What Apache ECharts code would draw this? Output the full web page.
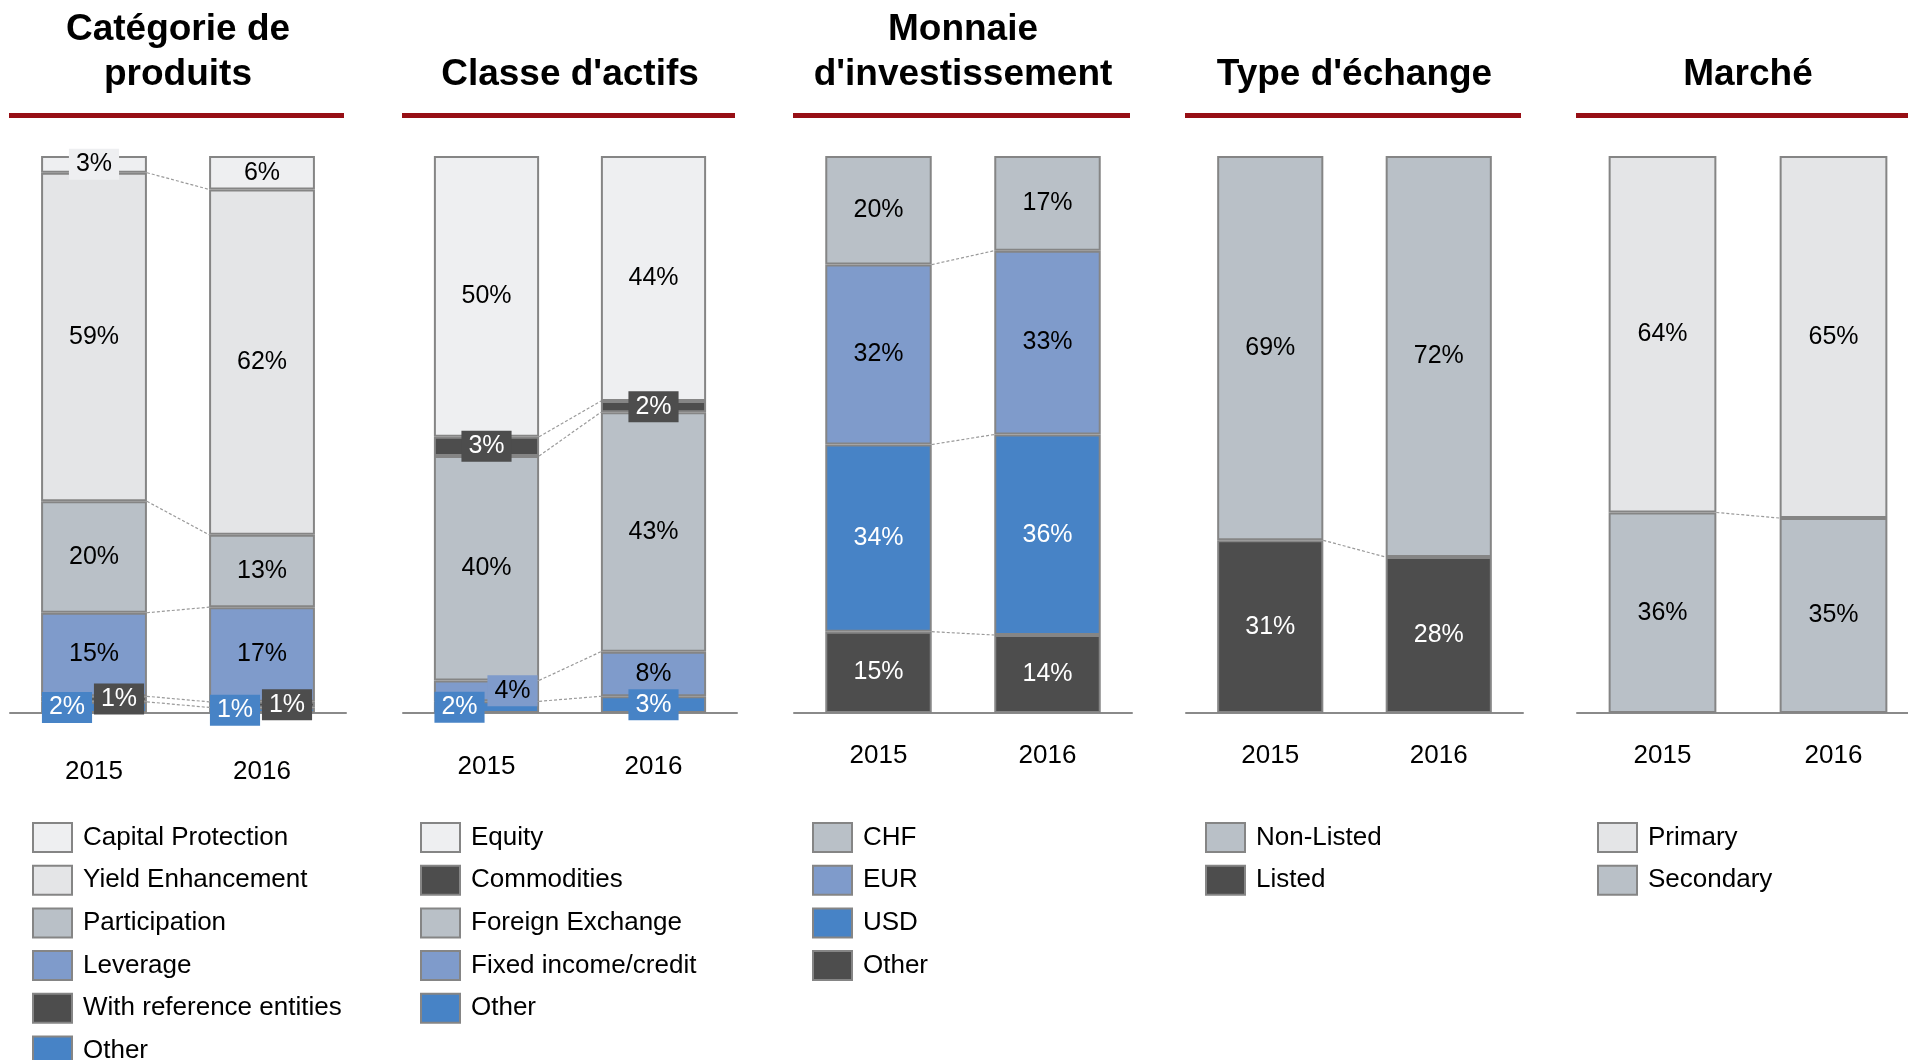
<!DOCTYPE html>
<html><head><meta charset="utf-8">
<script src="https://cdn.jsdelivr.net/npm/echarts@6/dist/echarts.min.js"></script>
<style>html,body{margin:0;padding:0;background:#fff;overflow:hidden}#c{width:1920px;height:1060px}</style>
</head><body><div id="c"></div>
<script>
// ---------------- DATA ----------------
const years = ['2015', '2016'];
const titles = ['Catégorie de\nproduits', "Classe d'actifs", "Monnaie\nd'investissement", "Type d'échange", 'Marché'];

// Panel 1 – Catégorie de produits (stack order: bottom -> top)
const p1Names = ['Other', 'With reference entities', 'Leverage', 'Participation', 'Yield Enhancement', 'Capital Protection'];
const p1Other = [2, 1];
const p1WithRef = [1, 1];
const p1Leverage = [15, 17];
const p1Participation = [20, 13];
const p1Yield = [59, 62];
const p1Capital = [3, 6];

// Panel 2 – Classe d'actifs
const p2Names = ['Other', 'Fixed income/credit', 'Foreign Exchange', 'Commodities', 'Equity'];
const p2Other = [2.1, 3];
const p2Fixed = [3.75, 8];
const p2FX = [40.3, 43];
const p2Commod = [3.45, 2];
const p2Equity = [50.4, 44];

// Panel 3 – Monnaie d'investissement
const p3Names = ['Other', 'USD', 'EUR', 'CHF'];
const p3Other = [14.6, 14];
const p3USD = [33.6, 36];
const p3EUR = [32.3, 33];
const p3CHF = [19.5, 17];

// Panel 4 – Type d'échange
const p4Names = ['Listed', 'Non-Listed'];
const p4Listed = [31, 28];
const p4NonListed = [69, 72];

// Panel 5 – Marché
const p5Names = ['Secondary', 'Primary'];
const p5Secondary = [36, 35];
const p5Primary = [64, 65];

// ---------------- STYLE ----------------
const FONT = '"Liberation Sans", Arial, Helvetica, sans-serif';
const COL = {vlight: '#eeeff1', light: '#e4e5e7', grey: '#b9c0c7', steel: '#7f9bcb', blue: '#4783c6', dark: '#4d4d4d'};
const BORDER = '#858585';

// box: per-year horizontal offset of a boxed label (null = plain label)
const panels = [
  {series: [
    {name: p1Names[0], data: p1Other, color: COL.blue, text: '#fff', box: [-27, -27]},
    {name: p1Names[1], data: p1WithRef, color: COL.dark, text: '#fff', box: [25, 25]},
    {name: p1Names[2], data: p1Leverage, color: COL.steel, text: '#000'},
    {name: p1Names[3], data: p1Participation, color: COL.grey, text: '#000'},
    {name: p1Names[4], data: p1Yield, color: COL.light, text: '#000'},
    {name: p1Names[5], data: p1Capital, color: COL.vlight, text: '#000', box: [0, null]}
  ]},
  {series: [
    {name: p2Names[0], data: p2Other, color: COL.blue, text: '#fff', box: [-27, 0]},
    {name: p2Names[1], data: p2Fixed, color: COL.steel, text: '#000', box: [26, null]},
    {name: p2Names[2], data: p2FX, color: COL.grey, text: '#000'},
    {name: p2Names[3], data: p2Commod, color: COL.dark, text: '#fff', box: [0, 0]},
    {name: p2Names[4], data: p2Equity, color: COL.vlight, text: '#000'}
  ]},
  {series: [
    {name: p3Names[0], data: p3Other, color: COL.dark, text: '#fff'},
    {name: p3Names[1], data: p3USD, color: COL.blue, text: '#fff'},
    {name: p3Names[2], data: p3EUR, color: COL.steel, text: '#000'},
    {name: p3Names[3], data: p3CHF, color: COL.grey, text: '#000'}
  ]},
  {series: [
    {name: p4Names[0], data: p4Listed, color: COL.dark, text: '#fff'},
    {name: p4Names[1], data: p4NonListed, color: COL.grey, text: '#000'}
  ]},
  {series: [
    {name: p5Names[0], data: p5Secondary, color: COL.grey, text: '#000'},
    {name: p5Names[1], data: p5Primary, color: COL.light, text: '#000'}
  ]}
];

const W = 1920;
const layout = [
  {left: 10, width: 336, labelMargin: 46, legendLeft: 32, titleTop: 7},
  {left: 403, width: 334, labelMargin: 41, legendLeft: 420, titleTop: 52},
  {left: 794, width: 338, labelMargin: 30, legendLeft: 812, titleTop: 7},
  {left: 1186, width: 337, labelMargin: 30, legendLeft: 1205, titleTop: 52},
  {left: 1577, width: 342, labelMargin: 30, legendLeft: 1597, titleTop: 52}
];

const BAR_FRAC = 0.63;

const option = {
  animation: false, backgroundColor: '#fff',
  title: [], grid: [], xAxis: [], yAxis: [], legend: [], series: [], graphic: []
};

panels.forEach((p, i) => {
  const L = layout[i];
  option.title.push({
    text: titles[i], left: L.left + L.width / 2, top: L.titleTop, textAlign: 'center', padding: 0,
    textStyle: {fontFamily: FONT, fontSize: 37, fontWeight: 'bold', color: '#000', lineHeight: 45}
  });
  option.graphic.push({type: 'rect', silent: true, shape: {x: L.left - 1, y: 113, width: L.width - 1, height: 5}, style: {fill: '#970f15'}});
  option.grid.push({left: L.left, right: W - L.left - L.width, top: 156, height: 557});
  option.xAxis.push({
    type: 'category', gridIndex: i, data: years,
    axisLine: {lineStyle: {color: '#8a8a8a', width: 2}},
    axisTick: {length: 9, lineStyle: {color: '#8a8a8a', width: 2}},
    axisLabel: {margin: L.labelMargin, fontSize: 26, color: '#000', fontFamily: FONT}
  });
  option.yAxis.push({type: 'value', gridIndex: i, min: 0, max: 100, show: false});

  p.series.forEach(s => {
    option.series.push({
      type: 'bar', name: s.name, xAxisIndex: i, yAxisIndex: i, stack: 'st' + i, barWidth: (BAR_FRAC * 100) + '%',
      itemStyle: {color: s.color, borderColor: BORDER, borderWidth: 2},
      label: {show: true, position: 'inside', fontSize: 25, fontFamily: FONT, color: s.text,
        formatter: prm => Math.round(prm.value) + '%'},
      data: s.data.map((v, k) => {
        const b = s.box ? s.box[k] : null;
        if (b === null || b === undefined) return v;
        return {value: v, label: {backgroundColor: s.color, padding: [3, 7, 3, 7], lineHeight: 25, offset: [b, 0]}};
      })
    });
  });

  // dashed connectors between segment boundaries of 2015 and 2016
  const cum = k => { let a = 0; return p.series.map(s => (a += s.data[k])); };
  const c0 = cum(0), c1 = cum(1);
  const conn = c0.slice(0, -1).map((v, j) => [0, v, c1[j]]);
  option.series.push({
    type: 'custom', xAxisIndex: i, yAxisIndex: i, silent: true, z: 1,
    encode: {x: 0, y: [1, 2]}, data: conn,
    renderItem: (params, api) => {
      const a = api.coord([0, api.value(1)]);
      const b = api.coord([1, api.value(2)]);
      const hw = api.size([1, 0])[0] * BAR_FRAC / 2;
      return {type: 'line', shape: {x1: a[0] + hw, y1: a[1], x2: b[0] - hw, y2: b[1]},
        style: {stroke: '#9a9a9a', lineWidth: 1.2, lineDash: [3, 2]}};
    }
  });

  option.legend.push({
    orient: 'vertical', left: L.legendLeft, top: 822, height: 400, padding: 0, itemWidth: 39, itemHeight: 29, itemGap: 11.7,
    icon: 'rect', selectedMode: false,
    data: p.series.slice().reverse().map(s => ({name: s.name, itemStyle: {color: s.color, borderColor: BORDER, borderWidth: 2}})),
    textStyle: {fontSize: 26, lineHeight: 29, fontFamily: FONT, color: '#000', padding: [0, 0, 0, 6]}
  });
});

const chart = echarts.init(document.getElementById('c'), null, {renderer: 'canvas'});
chart.setOption(option);
</script>
</body></html>
